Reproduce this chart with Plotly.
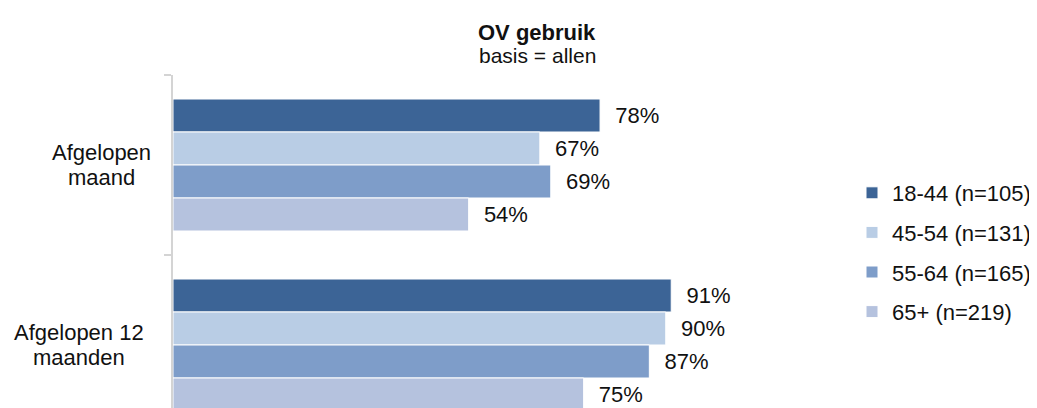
import plotly.graph_objects as go

categories = ["Afgelopen maand", "Afgelopen 12 maanden"]
series_names = ["18-44 (n=105)", "45-54 (n=131)", "55-64 (n=165)", "65+ (n=219)"]
v_18_44 = [78, 91]
v_45_54 = [67, 90]
v_55_64 = [69, 87]
v_65plus = [54, 75]
series_values = [v_18_44, v_45_54, v_55_64, v_65plus]
colors = ["#3C6496", "#B9CDE5", "#7E9DC9", "#B5C2DE"]

# the page body has an 8px margin: figure is laid out in screen px minus OFF
OFF = 8
SW, SH = 1037, 408
W, H = SW - OFF, SH - OFF
ML = 173 - OFF
MT = 75 - OFF
MB, MR = 0, 0
PW = W - ML - MR
PH = H - MT - MB
SCALE = 5.475  # px per percent
XMAX = PW / SCALE

FONT = "Liberation Sans, Arial, sans-serif"
FS = 22

def py2paper(spy):
    return (H - MB - (spy - OFF)) / PH

def px2paper(spx):
    return ((spx - OFF) - ML) / PW

fig = go.Figure()
for i, (name, vals, col) in enumerate(zip(series_names, series_values, colors)):
    fig.add_trace(go.Bar(
        y=categories, x=vals, name=name, orientation="h",
        marker=dict(color=col, line=dict(color="white", width=1)),
        text=vals, texttemplate="\u00a0\u00a0%{x}%", textposition="outside",
        textfont=dict(family=FONT, size=FS, color="#111111"),
        cliponaxis=False, constraintext="none",
        legendgroup=f"g{i}",
    ))

annotations = [
    dict(text="<b>OV gebruik</b>", xref="paper", yref="paper",
         x=px2paper(537), y=py2paper(33), xanchor="center", yanchor="middle",
         showarrow=False, font=dict(family=FONT, size=22, color="#111111")),
    dict(text="basis = allen", xref="paper", yref="paper",
         x=px2paper(537), y=py2paper(55), xanchor="center", yanchor="middle",
         showarrow=False, font=dict(family=FONT, size=21, color="#111111")),
]
label_lines = {
    "Afgelopen maand": (["Afgelopen", "maand"], 101.5),
    "Afgelopen 12 maanden": (["Afgelopen 12", "maanden"], 78.5),
}
for cat in categories:
    lines, cx = label_lines[cat]
    for j, ln in enumerate(lines):
        annotations.append(dict(
            text=ln, xref="paper", yref="y", x=0, y=cat,
            xshift=cx - 173, yshift=(12.5 if j == 0 else -12.5),
            xanchor="center", yanchor="middle", showarrow=False,
            font=dict(family=FONT, size=FS, color="#111111")))

fig.update_layout(
    width=W, height=H,
    margin=dict(l=ML, r=MR, t=MT, b=MB, pad=0, autoexpand=False),
    barmode="group", bargap=0.2667, bargroupgap=0,
    plot_bgcolor="white", paper_bgcolor="white",
    font=dict(family=FONT, size=FS, color="#111111"),
    xaxis=dict(range=[0, XMAX], visible=False, showgrid=False, zeroline=False),
    yaxis=dict(type="category", categoryorder="array", categoryarray=categories,
               range=[1.35, -0.5], showticklabels=False,
               showline=True, linecolor="#D4D4D4", linewidth=2,
               ticks="outside", ticklen=7, tickcolor="#D4D4D4", tickwidth=2,
               tickson="boundaries", showgrid=False, zeroline=False),
    legend=dict(x=px2paper(852), y=py2paper(172), xanchor="left", yanchor="top",
                font=dict(family=FONT, size=FS, color="#111111"),
                tracegroupgap=8, traceorder="grouped", bgcolor="rgba(0,0,0,0)"),
    showlegend=True,
    annotations=annotations,
)

fig.write_html("out.html")
